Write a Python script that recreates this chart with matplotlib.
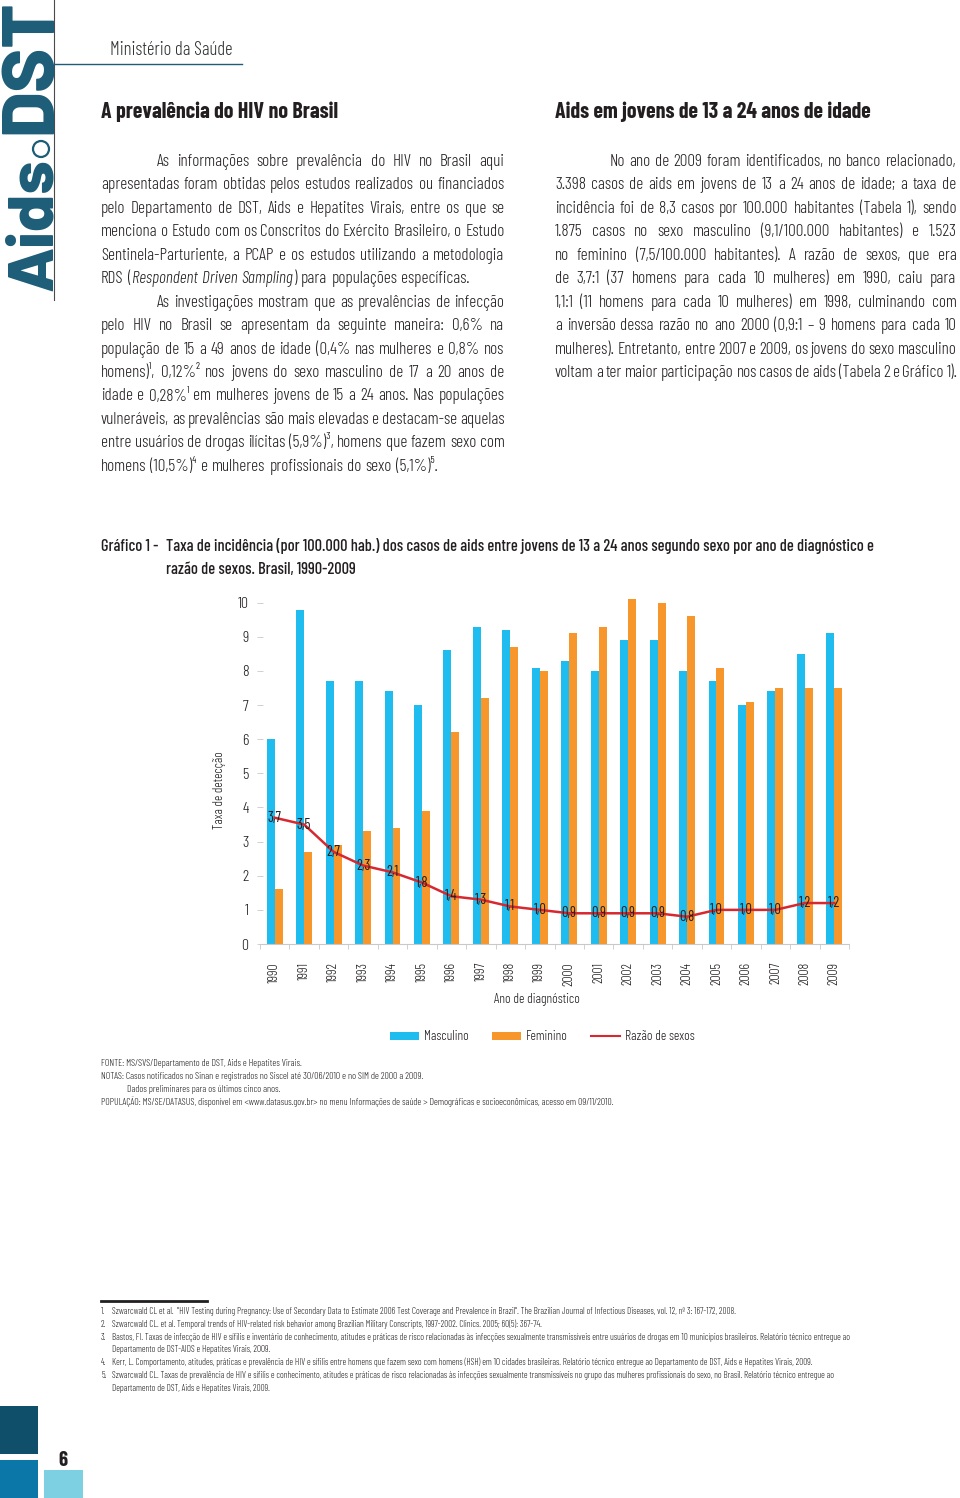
import matplotlib
matplotlib.use("Agg")
import matplotlib.pyplot as plt
from matplotlib.patches import Patch, Rectangle, Ellipse
from matplotlib.lines import Line2D

# ---------------- data ----------------
anos = ["1990", "1991", "1992", "1993", "1994", "1995", "1996", "1997", "1998", "1999",
        "2000", "2001", "2002", "2003", "2004", "2005", "2006", "2007", "2008", "2009"]
masculino = [6.0, 9.8, 7.7, 7.7, 7.4, 7.0, 8.6, 9.3, 9.2, 8.1,
             8.3, 8.0, 8.9, 8.9, 8.0, 7.7, 7.0, 7.4, 8.5, 9.1]
feminino = [1.6, 2.7, 2.9, 3.3, 3.4, 3.9, 6.2, 7.2, 8.7, 8.0,
            9.1, 9.3, 10.1, 10.0, 9.6, 8.1, 7.1, 7.5, 7.5, 7.5]
razao = [3.7, 3.5, 2.7, 2.3, 2.1, 1.8, 1.4, 1.3, 1.1, 1.0,
         0.9, 0.9, 0.9, 0.9, 0.8, 1.0, 1.0, 1.0, 1.2, 1.2]
yticks = [0, 1, 2, 3, 4, 5, 6, 7, 8, 9, 10]

W, H = 960, 1498
FAM = ['Barlow Condensed', 'DejaVu Sans']
FAM_LOGO = ['Barlow', 'Barlow Semi Condensed', 'DejaVu Sans']
INK = '#231f20'
TEAL = '#1d5d78'
BLUE = '#1fbdef'
ORANGE = '#f7962a'
RED = '#d7282f'

plt.rcParams['font.family'] = FAM

fig = plt.figure(figsize=(W / 100, H / 100), dpi=100)
fig.patch.set_facecolor('white')
renderer = fig.canvas.get_renderer()


def fx(x):
    return x / W


def fy(y):
    return 1 - y / H


BODY = dict(family=FAM, fontsize=12.4, fontweight=300, color=INK)


def text(x, y, s, **kw):
    return fig.text(fx(x), fy(y), s, **kw)


def twidth(t):
    return t.get_window_extent(renderer).width


def run_width(s, style, base):
    kw = dict(base)
    if style == 'i':
        kw['fontstyle'] = 'italic'
    t = fig.text(0, 0, s, **kw)
    w = twidth(t)
    t.remove()
    return w


ITALIC_STATE = {'on': False}


def parse_line(line):
    # italic spans marked with { }
    words = []
    for w in line.split(' '):
        runs = []
        buf = ''
        for ch in w:
            if ch in '{}':
                if buf:
                    runs.append((buf, 'i' if ITALIC_STATE['on'] else 'n'))
                buf = ''
                ITALIC_STATE['on'] = (ch == '{')
            else:
                buf += ch
        if buf:
            runs.append((buf, 'i' if ITALIC_STATE['on'] else 'n'))
        words.append(runs)
    return words


def draw_line(x0, x1, yb, line, justify, base=BODY):
    words = parse_line(line)
    widths = []
    for runs in words:
        widths.append(sum(run_width(s, st, base) + 0.6 for s, st in runs))
    space = run_width('n n', 'n', base) - run_width('nn', 'n', base)
    if justify and len(words) > 1:
        gap = (x1 - x0 - sum(widths)) / (len(words) - 1)
        gap = max(gap, space * 0.6)
    else:
        gap = space
    x = x0
    for runs, wd in zip(words, widths):
        xx = x
        for s, st in runs:
            kw = dict(base)
            if st == 'i':
                kw['fontstyle'] = 'italic'
            t = text(xx, yb, s, ha='left', va='baseline', **kw)
            xx += twidth(t) + 0.6
        x += wd + gap


# ---------------- sidebar / header ----------------
text(52, 291, 'Aids', rotation=90, rotation_mode='anchor', ha='left', va='baseline',
     family=FAM_LOGO, fontweight=800, fontsize=47, color=TEAL)
text(52, 134, 'DST', rotation=90, rotation_mode='anchor', ha='left', va='baseline',
     family=FAM_LOGO, fontweight=800, fontsize=53.5, color=TEAL)
fig.add_artist(Ellipse((fx(41), fy(149)), 16 / W, 16 / H, transform=fig.transFigure,
                       facecolor='none', edgecolor=TEAL, lw=1.6))
fig.add_artist(Line2D([fx(53.5), fx(53.5)], [fy(0), fy(300)], transform=fig.transFigure,
                      color='#4a4a4a', lw=0.8))
fig.add_artist(Line2D([fx(53.5), fx(242)], [fy(64), fy(64)], transform=fig.transFigure,
                      color=TEAL, lw=1.0))
text(110, 55, 'Ministério da Saúde', ha='left', va='baseline', family=FAM, fontsize=13.5,
     fontweight=300, color='#333333')

# ---------------- headings ----------------
HEAD = dict(family=FAM, fontsize=15.8, fontweight=700, color=INK)
text(101, 118, 'A prevalência do HIV no Brasil', ha='left', va='baseline', **HEAD)
text(555, 118, 'Aids em jovens de 13 a 24 anos de idade', ha='left', va='baseline', **HEAD)

# ---------------- body text ----------------
left_lines = [
    (157, 'As informações sobre prevalência do HIV no Brasil aqui', True),
    (101, 'apresentadas foram obtidas pelos estudos realizados ou financiados', True),
    (101, 'pelo Departamento de DST, Aids e Hepatites Virais, entre os que se', True),
    (101, 'menciona o Estudo com os Conscritos do Exército Brasileiro, o Estudo', True),
    (101, 'Sentinela-Parturiente, a PCAP e os estudos utilizando a metodologia', True),
    (101, 'RDS ({Respondent Driven Sampling}) para populações específicas.', False),
    (157, 'As investigações mostram que as prevalências de infecção', True),
    (101, 'pelo HIV no Brasil se apresentam da seguinte maneira: 0,6% na', True),
    (101, 'população de 15 a 49 anos de idade (0,4% nas mulheres e 0,8% nos', True),
    (101, 'homens)¹, 0,12%² nos jovens do sexo masculino de 17 a 20 anos de', True),
    (101, 'idade e 0,28%¹ em mulheres jovens de 15 a 24 anos. Nas populações', True),
    (101, 'vulneráveis, as prevalências são mais elevadas e destacam-se aquelas', True),
    (101, 'entre usuários de drogas ilícitas (5,9%)³, homens que fazem sexo com', True),
    (101, 'homens (10,5%)⁴ e mulheres profissionais do sexo (5,1%)⁵.', False),
]
right_lines = [
    (610, 'No ano de 2009 foram identificados, no banco relacionado,', True),
    (555, '3.398 casos de aids em jovens de 13 a 24 anos de idade; a taxa de', True),
    (555, 'incidência foi de 8,3 casos por 100.000 habitantes (Tabela 1), sendo', True),
    (555, '1.875 casos no sexo masculino (9,1/100.000 habitantes) e 1.523', True),
    (555, 'no feminino (7,5/100.000 habitantes). A razão de sexos, que era', True),
    (555, 'de 3,7:1 (37 homens para cada 10 mulheres) em 1990, caiu para', True),
    (555, '1,1:1 (11 homens para cada 10 mulheres) em 1998, culminando com', True),
    (555, 'a inversão dessa razão no ano 2000 (0,9:1 – 9 homens para cada 10', True),
    (555, 'mulheres). Entretanto, entre 2007 e 2009, os jovens do sexo masculino', True),
    (555, 'voltam a ter maior participação nos casos de aids (Tabela 2 e Gráfico 1).', True),
]
for k, (x0, s, j) in enumerate(left_lines):
    draw_line(x0, 505, 166 + 23.45 * k, s, j)
for k, (x0, s, j) in enumerate(right_lines):
    draw_line(x0, 957, 166 + 23.45 * k, s, j)

# ---------------- chart title ----------------
TITLE = dict(family=FAM, fontsize=11.8, fontweight=500, color=INK)
text(101, 551, 'Gráfico 1 -', ha='left', va='baseline', **TITLE)
text(166, 551, 'Taxa de incidência (por 100.000 hab.) dos casos de aids entre jovens de 13 a 24 anos '
     'segundo sexo por ano de diagnóstico e', ha='left', va='baseline', **TITLE)
text(166, 574, 'razão de sexos. Brasil, 1990-2009', ha='left', va='baseline', **TITLE)

# ---------------- chart ----------------
x_left, x_right, y_bottom, y_top = 260, 849, 944, 602.7
ax = fig.add_axes([fx(x_left), fy(y_bottom), (x_right - x_left) / W, (y_bottom - y_top) / H])
ax.set_xlim(-0.5, len(anos) - 0.5)
ax.set_ylim(0, 10)
idx = list(range(len(anos)))
bw = 0.27
ax.bar([i - bw / 2 for i in idx], masculino, width=bw, color=BLUE, clip_on=False, zorder=2,
       label='Masculino')
ax.bar([i + bw / 2 for i in idx], feminino, width=bw, color=ORANGE, clip_on=False, zorder=2,
       label='Feminino')
ax.plot(idx, razao, color=RED, lw=1.8, zorder=3, label='Razão de sexos')
for i, r in zip(idx, razao):
    ax.text(i, r, f'{r:.1f}'.replace('.', ','), ha='center', va='center', fontsize=10.5,
            fontweight=400, color=INK, zorder=4)

for s in ('top', 'right', 'left'):
    ax.spines[s].set_visible(False)
ax.spines['bottom'].set_color('#c9c9c9')
ax.spines['bottom'].set_linewidth(0.8)
ax.set_yticks(yticks)
ax.set_yticklabels([str(v) for v in yticks], fontsize=11.5, fontweight=300, color=INK)
ax.tick_params(axis='y', direction='inout', length=4.5, width=0.6, color='#c9c9c9', pad=6)
ax.set_xticks(idx)
ax.set_xticklabels(anos, rotation=90, fontsize=10, fontweight=300, color=INK)
ax.tick_params(axis='x', which='major', length=0, pad=13)
ax.set_xticks([i - 0.5 for i in range(len(anos) + 1)], minor=True)
ax.tick_params(axis='x', which='minor', direction='out', length=3.5, width=0.6, color='#c9c9c9')
ax.patch.set_visible(False)

text(219, 790, 'Taxa de detecção', rotation=90, ha='center', va='center', fontsize=9.5,
     fontweight=300, color=INK)
text(537, 1000, 'Ano de diagnóstico', ha='center', va='center', fontsize=9.8,
     fontweight=300, color=INK)

handles = [Patch(facecolor=BLUE, edgecolor='none', label='Masculino'),
           Patch(facecolor=ORANGE, edgecolor='none', label='Feminino'),
           Line2D([], [], color=RED, lw=1.5, label='Razão de sexos')]
leg = fig.legend(handles=handles, loc='center', bbox_to_anchor=(fx(542), fy(1037)), ncol=3,
                 frameon=False, prop=dict(family=FAM, size=9.8, weight=300),
                 handlelength=2.15, handleheight=0.55, handletextpad=0.35, columnspacing=1.7,
                 borderpad=0, borderaxespad=0)
for t in leg.get_texts():
    t.set_color(INK)

# ---------------- notes ----------------
NOTE = dict(family=FAM, fontsize=7.0, fontweight=300, color=INK)
text(101, 1066, 'FONTE: MS/SVS/Departamento de DST, Aids e Hepatites Virais.', ha='left', va='baseline', **NOTE)
text(101, 1079, 'NOTAS: Casos notificados no Sinan e registrados no Siscel até 30/06/2010 e no SIM de 2000 a 2009.',
     ha='left', va='baseline', **NOTE)
text(127, 1092, 'Dados preliminares para os últimos cinco anos.', ha='left', va='baseline', **NOTE)
text(101, 1105, 'POPULAÇÃO: MS/SE/DATASUS, disponível em <www.datasus.gov.br> no menu Informações de saúde > '
     'Demográficas e socioeconômicas, acesso em 09/11/2010.', ha='left', va='baseline', **NOTE)

# ---------------- footnotes ----------------
fig.add_artist(Line2D([fx(101), fx(207)], [fy(1301), fy(1301)], transform=fig.transFigure,
                      color='#231f20', lw=2.0))
FN = dict(family=FAM, fontsize=6.6, fontweight=300, color=INK)
footnotes = [
    ('1.', 'Szwarcwald CL et al.  "HIV Testing during Pregnancy: Use of Secondary Data to Estimate 2006 Test Coverage and '
           'Prevalence in Brazil". The Brazilian Journal of Infectious Diseases, vol. 12, nº 3: 167-172, 2008.'),
    ('2.', 'Szwarcwald CL. et al. Temporal trends of HIV-related risk behavior among Brazilian Military Conscripts, '
           '1997-2002. Clinics. 2005; 60(5): 367-74.'),
    ('3.', 'Bastos, FI. Taxas de infecção de HIV e sífilis e inventário de conhecimento, atitudes e práticas de risco '
           'relacionadas às infecções sexualmente transmissíveis entre usuários de drogas em 10 municípios brasileiros. '
           'Relatório técnico entregue ao'),
    ('', 'Departamento de DST-AIDS e Hepatites Virais, 2009.'),
    ('4.', 'Kerr, L. Comportamento, atitudes, práticas e prevalência de HIV e sífilis entre homens que fazem sexo com '
           'homens (HSH) em 10 cidades brasileiras. Relatório técnico entregue ao Departamento de DST, Aids e Hepatites '
           'Virais, 2009.'),
    ('5.', 'Szwarcwald CL. Taxas de prevalência de HIV e sífilis e conhecimento, atitudes e práticas de risco relacionadas '
           'às infecções sexualmente transmissíveis no grupo das mulheres profissionais do sexo, no Brasil. Relatório '
           'técnico entregue ao'),
    ('', 'Departamento de DST, Aids e Hepatites Virais, 2009.'),
]
fy0 = 1314
for k, (num, s) in enumerate(footnotes):
    yb = fy0 + 12.8 * k
    if num:
        text(101, yb, num, ha='left', va='baseline', **FN)
    text(112, yb, s, ha='left', va='baseline', **FN)

# ---------------- page corner ----------------
fig.add_artist(Rectangle((fx(0), fy(1454)), 38 / W, 48 / H, transform=fig.transFigure,
                         facecolor='#0f4f6a', edgecolor='none'))
fig.add_artist(Rectangle((fx(0), fy(1498)), 38 / W, 38 / H, transform=fig.transFigure,
                         facecolor='#0a77a8', edgecolor='none'))
fig.add_artist(Rectangle((fx(44), fy(1498)), 39 / W, 28 / H, transform=fig.transFigure,
                         facecolor='#7dcfe2', edgecolor='none'))
text(63, 1460, '6', ha='center', va='center', family=FAM, fontsize=15, fontweight=700, color=INK)

fig.savefig('out.png', dpi=100)
